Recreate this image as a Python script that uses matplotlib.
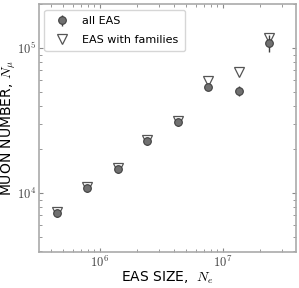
import numpy as np
import matplotlib
matplotlib.use("Agg")
import matplotlib.pyplot as plt
from matplotlib.ticker import FuncFormatter

plt.rcParams['mathtext.fontset'] = 'cm'

# EAS size bins and muon numbers
ne = [4.47e5, 7.83e5, 1.40e6, 2.41e6, 4.31e6, 7.55e6, 1.35e7, 2.37e7]
nmu_all = [7300, 10800, 14650, 22850, 30900, 53800, 50400, 108000]
nmu_err = [350, 500, 700, 1000, 1400, 2600, 4000, 14000]
nmu_fam = [7420, 10980, 14900, 23200, 31400, 59200, 68200, 116500]

fig = plt.figure(figsize=(2.99, 2.88), dpi=100)
ax = fig.add_axes([0.130, 0.125, 0.860, 0.861])

ax.errorbar(ne, nmu_fam, fmt='v', ms=6.5, mfc='white', mec='#555555', mew=0.9,
            ecolor='#555555', label='EAS with families', zorder=2)
ax.errorbar(ne, nmu_all, yerr=nmu_err, fmt='o', ms=5.5, mfc='#707070', mec='#404040',
            mew=0.8, ecolor='#404040', elinewidth=1, capsize=0, label='all EAS', zorder=3)

ax.set_xscale('log')
ax.set_yscale('log')
ax.set_xlim(10**5.504, 10**7.593)
ax.set_ylim(10**3.593, 10**5.303)

pow10 = FuncFormatter(lambda v, p: r'$10^{%d}$' % round(np.log10(v)))
ax.xaxis.set_major_formatter(pow10)
ax.yaxis.set_major_formatter(pow10)

for s in ax.spines.values():
    s.set_color('#aaaaaa')
    s.set_linewidth(1.2)
ax.tick_params(which='both', direction='in', top=True, right=True, color='#888888',
               labelsize=9, labelcolor='#444444', pad=2)
ax.tick_params(which='major', length=3)
ax.tick_params(which='minor', length=2)

ax.set_xlabel(r'EAS SIZE,  $N_e$', fontsize=10)
ax.set_ylabel(r'MUON NUMBER, $N_\mu$', fontsize=10)
ax.xaxis.set_label_coords(0.5, -0.07)
ax.yaxis.set_label_coords(-0.083, 0.5)

h, l = ax.get_legend_handles_labels()
leg = ax.legend(h[::-1], l[::-1], loc='upper left', fontsize=8, frameon=True,
                borderpad=0.6, handletextpad=0.8, labelspacing=0.75)
leg.get_frame().set_edgecolor('#cccccc')

plt.savefig("out.png", dpi=100)
